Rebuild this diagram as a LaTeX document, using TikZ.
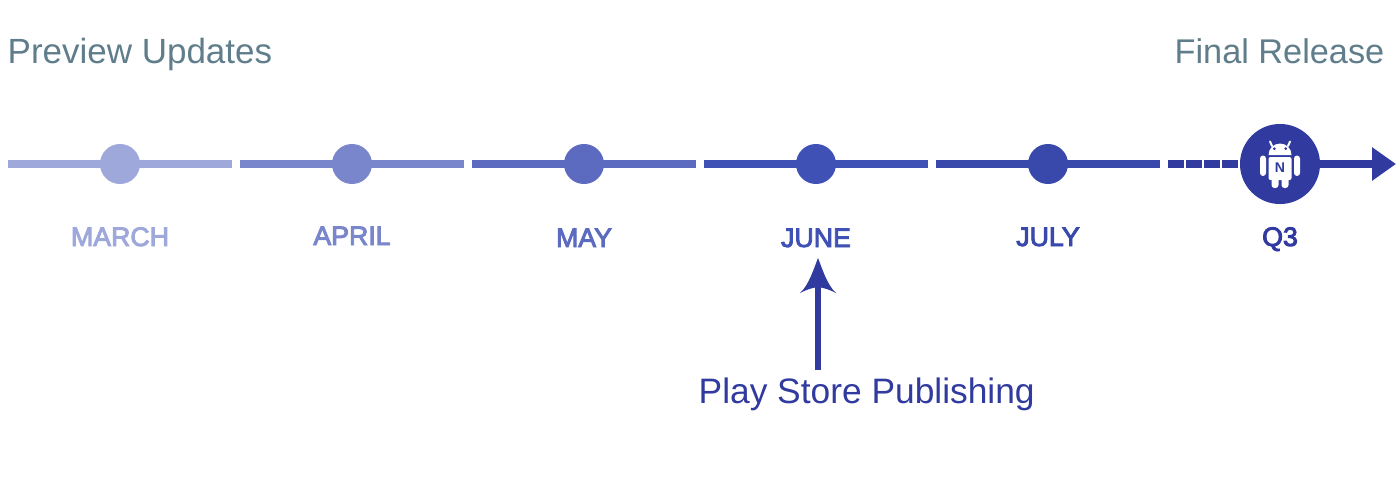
\documentclass[tikz,border=0pt]{standalone}
\usepackage{fontspec}
\setmainfont{Liberation Sans}
\newfontfamily\medfont[FakeBold=3.5]{Liberation Sans}
\usetikzlibrary{arrows.meta}
\usetikzlibrary{calc,positioning}
\definecolor{marchcol}{HTML}{9FA8DA}
\definecolor{aprilcol}{HTML}{7986CB}
\definecolor{maycol}{HTML}{5C6BC0}
\definecolor{junecol}{HTML}{3F51B5}
\definecolor{julycol}{HTML}{3949AB}
\definecolor{finalcol}{HTML}{303A9F}
\definecolor{headcol}{HTML}{607D8B}
\tikzset{
  seg/.style={line width=0.08cm},
  dot/.style={circle,fill=#1,minimum size=0.4cm,inner sep=0pt},
  month/.style={text=#1,anchor=base,inner sep=0pt,font=\medfont\fontsize{7.6}{9}\selectfont},
  title/.style={text=headcol,inner sep=0pt,font=\fontsize{9.95}{11}\selectfont},
}

\begin{document}
\begin{tikzpicture}[x=0.01cm,y=-0.01cm]
\useasboundingbox (0,0) rectangle (1400,500);

% month segments
\coordinate (m0) at (8,164);    \coordinate (m1) at (232,164);
\coordinate (a0) at (240,164);  \coordinate (a1) at (464,164);
\coordinate (y0) at (472,164);  \coordinate (y1) at (696,164);
\coordinate (j0) at (704,164);  \coordinate (j1) at (928,164);
\coordinate (l0) at (936,164);  \coordinate (l1) at (1160,164);
\draw[seg,marchcol] (m0) -- (m1);
\draw[seg,aprilcol] (a0) -- (a1);
\draw[seg,maycol] (y0) -- (y1);
\draw[seg,junecol] (j0) -- (j1);
\draw[seg,julycol] (l0) -- (l1);

\node[dot=marchcol] (march) at (120,164) {};
\node[dot=aprilcol] (april) at (352,164) {};
\node[dot=maycol] (may) at (584,164) {};
\node[dot=junecol] (june) at (816,164) {};
\node[dot=julycol] (july) at (1048,164) {};
\node[circle,fill=finalcol,minimum size=0.8cm,inner sep=0pt] (q3) at (1280,164) {};

% dashes up to the release
\coordinate (d0) at (1168,164);
\coordinate (d1) at (1238,164);
\coordinate (e1) at (1396,164);
\draw[seg,finalcol,dash pattern=on 0.16cm off 0.02cm] (d0) -- (d1);
\draw[seg,finalcol,shorten <=-0.02cm,-{Triangle[length=0.24cm,width=0.32cm]}] (q3) -- (e1);

% android
\fill[white] (1268.5,155) arc[start angle=180,end angle=360,radius=11.5] -- cycle;
\draw[white,line width=0.02cm,line cap=round] (1272,146) -- (1270,141.5) (1288,146) -- (1290,141.5);
\fill[finalcol] (1274.3,148.7) circle (1.5) (1285.7,148.7) circle (1.5);
\fill[white,rounded corners=0.02cm] (1268.5,157) rectangle (1291.5,180);
\fill[white,rounded corners=0.03cm] (1260,155.5) rectangle (1266,176);
\fill[white,rounded corners=0.03cm] (1294,155.5) rectangle (1300,176);
\fill[white,rounded corners=0.03cm] (1271.5,176) rectangle (1278.5,188);
\fill[white,rounded corners=0.03cm] (1281.5,176) rectangle (1288.5,188);
\node[text=finalcol,inner sep=0pt,font=\bfseries\fontsize{4}{5}\selectfont] (nlet) at (1280,167.3) {N};

% labels
\node[month=marchcol] (lmarch) at (120,246) {MARCH};
\node[month=aprilcol] (lapril) at (352,245) {APRIL};
\node[month=maycol] (lmay) at (584,247) {MAY};
\node[month=junecol] (ljune) at (816,247) {JUNE};
\node[month=julycol] (ljuly) at (1048,246) {JULY};
\node[month=finalcol] (lq3) at (1280,246) {Q3};

\node[title,anchor=base west] (prev) at (7,63) {Preview Updates};
\node[title,anchor=base east,font=\fontsize{9.75}{11}\selectfont] (fin) at (1385,63) {Final Release};

% store arrow
\node[text=finalcol,inner sep=0pt,anchor=base west,font=\fontsize{10.05}{11}\selectfont] (store) at (698,403) {Play Store Publishing};
\coordinate (s0) at (818,370);
\coordinate (s1) at (818,287);
\draw[finalcol,line width=0.06cm] (s0) -- (s1);
\fill[finalcol] (818,258) .. controls (822,268) and (827,285) .. (836,293)
  .. controls (830,290) and (825,288) .. (818,287)
  .. controls (811,288) and (806,290) .. (800,293)
  .. controls (809,285) and (814,268) .. (818,258) -- cycle;
\end{tikzpicture}
\end{document}
